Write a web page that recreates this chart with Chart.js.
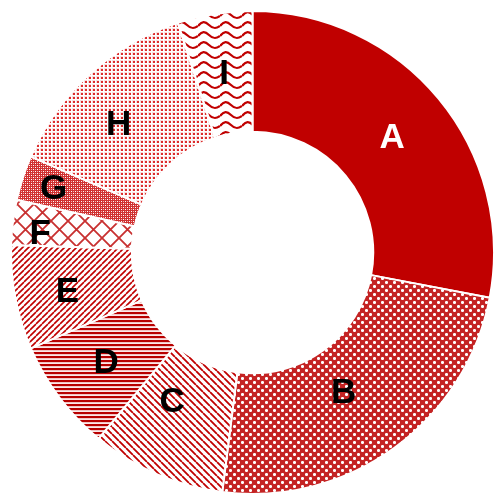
<!doctype html>
<html lang="en">
  <head>
    <meta charset="utf-8">
    <title>Doughnut</title>
    <style>
      * { margin: 0; padding: 0; }
      body { background: #fff; }
      .chartBox { width: 495px; height: 495px; }
    </style>
  </head>
  <body>
    <div class="chartBox">
      <canvas id="myChart"></canvas>
    </div>
    <script src="https://cdn.jsdelivr.net/npm/chart.js/dist/chart.umd.min.js"></script>
    <script>
    // data
    const labels = ['A', 'B', 'C', 'D', 'E', 'F', 'G', 'H', 'I'];
    const values = [28, 24, 9, 7.5, 7, 3, 3, 13.5, 5];

    const RED = '#c00000';
    const ctx = document.getElementById('myChart');
    const c2d = ctx.getContext('2d');

    // small helper: build a repeating tile
    function tile(w, h, draw) {
      const c = document.createElement('canvas');
      c.width = w; c.height = h;
      const g = c.getContext('2d');
      g.fillStyle = '#fff';
      g.fillRect(0, 0, w, h);
      draw(g, w, h);
      return c2d.createPattern(c, 'repeat');
    }
    function lines(g, pts, width, color) {
      g.strokeStyle = color;
      g.lineWidth = width;
      g.beginPath();
      pts.forEach(p => { g.moveTo(p[0], p[1]); g.lineTo(p[2], p[3]); });
      g.stroke();
    }

    const fills = [
      RED,
      // B: red with white plus holes
      tile(8, 8, g => {
        g.fillStyle = '#c42424';
        g.fillRect(0, 0, 8, 8);
        g.fillStyle = '#eeb8b8';
        [[2, 2], [6, 6]].forEach(([x, y]) => {
          g.fillRect(x - 1, y - 1, 3, 3);
        });
        g.fillStyle = '#fff';
        [[2, 2], [6, 6]].forEach(([x, y]) => {
          g.fillRect(x - 1, y, 3, 1);
          g.fillRect(x, y - 1, 1, 3);
        });
      }),
      // C: downward diagonal
      tile(7, 7, g => lines(g, [[-7, 0, 0, 7], [0, 0, 7, 7], [7, 0, 14, 7]], 1.8, RED)),
      // D: horizontal lines
      tile(4, 4, g => {
        g.fillStyle = '#b80000'; g.fillRect(0, 0, 4, 2);
        g.fillStyle = '#f2c4c4'; g.fillRect(0, 2, 4, 1);
        g.fillStyle = '#fbe8e8'; g.fillRect(0, 3, 4, 1);
      }),
      // E: upward diagonal
      tile(6, 6, g => lines(g, [[-6, 6, 0, 0], [0, 6, 6, 0], [6, 6, 12, 0]], 1.6, RED)),
      // F: large trellis
      tile(17, 17, g => lines(g, [[0, 0, 17, 17], [17, 0, 0, 17], [-17, 0, 0, 17], [17, 0, 34, 17], [0, -17, 17, 0], [0, 17, 17, 34]], 1.8, '#c83030')),
      // G: small check
      tile(4, 4, g => {
        g.fillStyle = '#d03030'; g.fillRect(0, 0, 4, 4);
        g.fillStyle = '#fff';
        g.fillRect(1, 1, 1, 1); g.fillRect(3, 3, 1, 1);
        g.fillStyle = '#f0b0b0';
        g.fillRect(3, 1, 1, 1); g.fillRect(1, 3, 1, 1);
      }),
      // H: dots
      tile(4, 4, g => {
        g.fillStyle = '#f8dcdc'; g.fillRect(0, 0, 3, 3);
        g.fillStyle = '#dc2c2c'; g.fillRect(1, 1, 2, 2);
      }),
      // I: waves
      tile(22, 10, g => {
        g.strokeStyle = RED;
        g.lineWidth = 2.2;
        g.beginPath();
        g.moveTo(0, 6);
        g.bezierCurveTo(4, 1, 7, 1, 11, 5);
        g.bezierCurveTo(15, 9, 18, 9, 22, 6);
        g.stroke();
      })
    ];

    // label nudges: radial px and angle degrees
    const labelShift = [0, -14, -12, 2, 8, 32, 28, 4, 0];
    const labelTurn = [0, 3, 5, 0, -1, -2, 0, -4, 0];

    const labelPlugin = {
      id: 'sliceLabels',
      afterDatasetsDraw(chart) {
        const g = chart.ctx;
        const meta = chart.getDatasetMeta(0);
        g.save();
        g.font = 'bold 35px "Liberation Sans", Arial, sans-serif';
        g.textAlign = 'center';
        g.textBaseline = 'middle';
        meta.data.forEach((arc, i) => {
          const p = arc.getProps(['startAngle', 'endAngle', 'innerRadius', 'outerRadius', 'x', 'y'], true);
          const mid = (p.startAngle + p.endAngle) / 2 + labelTurn[i] * Math.PI / 180;
          const r = (p.innerRadius + p.outerRadius) / 2 + labelShift[i];
          g.fillStyle = i === 0 ? '#fff' : '#000';
          g.fillText(labels[i], p.x + Math.cos(mid) * r, p.y + Math.sin(mid) * r + 1);
        });
        g.restore();
      }
    };

    const config = {
      type: 'doughnut',
      data: {
        labels: labels,
        datasets: [{
          data: values,
          backgroundColor: fills,
          borderColor: '#fff',
          borderWidth: 2
        }]
      },
      options: {
        responsive: true,
        maintainAspectRatio: false,
        animation: false,
        cutout: '50%',
        layout: { padding: { left: 10, top: 10, right: 0, bottom: 0 } },
        plugins: {
          legend: { display: false },
          tooltip: { enabled: false }
        }
      },
      plugins: [labelPlugin]
    };

    const myChart = new Chart(ctx, config);
    </script>
  </body>
</html>
